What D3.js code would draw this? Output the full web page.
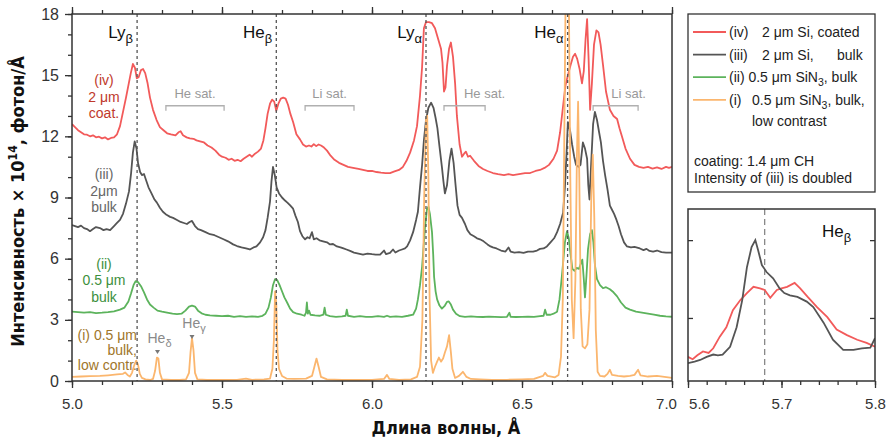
<!DOCTYPE html>
<html>
<head>
<meta charset="utf-8">
<script src="https://cdn.jsdelivr.net/npm/d3@7"></script>
<style>
  body { margin: 0; background: #fff; }
  svg text { font-family: "Liberation Sans", Arial, sans-serif; }
  .title { font-family: "Liberation Sans Narrow", "DejaVu Sans Condensed", "Roboto", sans-serif !important; font-weight: bold; }
</style>
</head>
<body>
<div id="chart"></div>
<script>
// Spectra: [wavelength (Å), intensity]
const specIv = [
  [5.000,12.60],[5.010,12.45],[5.020,12.30],[5.030,12.20],[5.040,12.10],[5.050,12.08],[5.060,12.00],[5.070,12.05],[5.080,11.95],[5.090,11.98],
  [5.100,11.90],[5.110,11.95],[5.120,11.85],[5.130,11.92],[5.140,11.95],[5.150,12.10],[5.160,12.50],[5.170,13.20],[5.180,13.90],[5.188,14.50],
  [5.196,15.10],[5.203,15.55],[5.210,15.35],[5.216,14.85],[5.222,14.90],[5.230,15.25],[5.237,15.30],[5.244,15.10],[5.252,14.60],[5.260,13.90],
  [5.270,13.30],[5.282,12.80],[5.293,12.45],[5.305,12.30],[5.317,12.15],[5.330,12.10],[5.345,12.05],[5.355,12.20],[5.362,12.25],[5.370,12.05],
  [5.382,11.95],[5.393,11.90],[5.405,11.88],[5.415,11.80],[5.427,11.75],[5.440,11.70],[5.452,11.55],[5.465,11.45],[5.478,11.30],[5.490,11.10],
  [5.500,11.00],[5.512,10.95],[5.522,10.85],[5.532,10.90],[5.542,10.80],[5.552,10.85],[5.562,10.78],[5.572,10.90],[5.582,11.00],[5.592,11.10],
  [5.600,11.00],[5.610,11.15],[5.620,11.25],[5.630,11.40],[5.638,11.80],[5.645,12.40],[5.652,13.10],[5.660,13.60],[5.667,13.80],[5.674,13.70],
  [5.681,13.25],[5.688,13.60],[5.696,13.85],[5.704,13.90],[5.712,13.85],[5.720,13.55],[5.728,13.10],[5.737,12.70],[5.748,12.10],[5.760,11.85],
  [5.770,11.60],[5.780,11.50],[5.790,11.55],[5.798,11.50],[5.806,11.62],[5.814,11.52],[5.822,11.60],[5.830,11.55],[5.840,11.45],[5.850,11.30],
  [5.862,11.05],[5.875,10.85],[5.890,10.70],[5.905,10.60],[5.920,10.50],[5.937,10.45],[5.955,10.40],[5.970,10.35],[5.985,10.30],[6.000,10.30],
  [6.015,10.25],[6.030,10.22],[6.045,10.20],[6.060,10.20],[6.075,10.28],[6.090,10.35],[6.103,10.50],[6.115,10.80],[6.127,11.20],[6.140,11.80],
  [6.150,12.50],[6.160,14.00],[6.167,15.40],[6.173,17.30],[6.180,17.60],[6.190,17.60],[6.200,17.55],[6.210,17.30],[6.220,16.80],[6.230,16.30],
  [6.235,15.60],[6.240,14.20],[6.245,14.40],[6.250,15.45],[6.257,16.30],[6.263,16.60],[6.270,15.90],[6.277,14.60],[6.283,13.00],[6.292,11.60],
  [6.300,11.00],[6.307,11.15],[6.313,11.25],[6.320,11.00],[6.327,11.05],[6.340,10.80],[6.355,10.55],[6.370,10.40],[6.385,10.30],[6.403,10.20],
  [6.420,10.15],[6.440,10.10],[6.455,10.15],[6.470,10.10],[6.490,10.15],[6.510,10.20],[6.527,10.20],[6.545,10.30],[6.560,10.35],[6.575,10.45],
  [6.590,10.60],[6.605,10.90],[6.617,11.30],[6.627,12.20],[6.637,13.50],[6.645,14.50],[6.653,15.00],[6.662,15.50],[6.670,15.90],[6.677,16.05],
  [6.684,15.80],[6.692,15.30],[6.700,14.60],[6.706,15.20],[6.712,16.80],[6.717,17.75],[6.722,15.80],[6.727,13.30],[6.733,14.60],[6.740,16.50],
  [6.748,17.20],[6.755,17.10],[6.762,16.50],[6.770,15.50],[6.780,14.20],[6.793,13.30],[6.805,13.00],[6.817,12.85],[6.825,12.40],[6.833,12.00],
  [6.845,11.40],[6.860,10.90],[6.875,10.60],[6.890,10.50],[6.905,10.45],[6.920,10.50],[6.935,10.42],[6.950,10.48],[6.965,10.40],[6.980,10.50],
  [6.990,10.45],[7.000,10.50]
];
const specIii = [
  [5.000,7.65],[5.010,7.60],[5.020,7.55],[5.030,7.62],[5.040,7.50],[5.050,7.45],[5.060,7.35],[5.070,7.45],[5.080,7.55],[5.093,7.50],
  [5.105,7.40],[5.115,7.45],[5.127,7.40],[5.140,7.60],[5.150,7.75],[5.160,7.90],[5.170,8.20],[5.180,8.70],[5.190,9.30],[5.197,10.20],
  [5.203,11.20],[5.209,11.75],[5.215,11.40],[5.220,10.70],[5.227,10.25],[5.233,10.10],[5.240,10.15],[5.247,9.85],[5.255,9.50],[5.265,9.20],
  [5.275,8.90],[5.283,8.75],[5.293,8.50],[5.303,8.30],[5.315,8.15],[5.327,8.05],[5.337,8.00],[5.350,7.90],[5.362,7.80],[5.373,7.75],
  [5.383,7.70],[5.392,7.80],[5.400,7.85],[5.410,7.60],[5.420,7.45],[5.430,7.40],[5.445,7.30],[5.460,7.20],[5.475,7.15],[5.490,7.05],
  [5.505,6.95],[5.520,6.85],[5.537,6.70],[5.550,6.62],[5.565,6.55],[5.580,6.50],[5.593,6.45],[5.605,6.55],[5.615,6.60],[5.627,6.80],
  [5.637,7.05],[5.645,7.40],[5.652,8.00],[5.660,8.80],[5.665,9.80],[5.670,10.50],[5.676,10.10],[5.682,9.50],[5.690,9.20],[5.700,9.00],
  [5.710,8.85],[5.718,8.75],[5.728,8.60],[5.737,8.45],[5.745,8.10],[5.753,7.80],[5.760,7.35],[5.768,7.10],[5.777,6.95],[5.785,7.05],
  [5.792,7.00],[5.800,7.30],[5.806,6.95],[5.815,7.00],[5.825,6.90],[5.837,6.85],[5.850,6.80],[5.860,6.70],[5.870,6.72],[5.883,6.60],
  [5.895,6.55],[5.905,6.50],[5.915,6.45],[5.927,6.38],[5.940,6.30],[5.955,6.25],[5.970,6.20],[5.985,6.25],[6.000,6.22],[6.012,6.20],
  [6.027,6.20],[6.040,6.40],[6.047,6.22],[6.060,6.28],[6.070,6.45],[6.078,6.30],[6.090,6.40],[6.100,6.45],[6.110,6.50],[6.117,6.60],
  [6.127,6.90],[6.137,7.30],[6.147,7.90],[6.153,8.30],[6.160,9.50],[6.167,10.60],[6.173,11.80],[6.180,12.80],[6.188,13.40],[6.197,13.65],
  [6.205,13.40],[6.212,12.90],[6.218,12.40],[6.225,11.50],[6.233,10.50],[6.238,9.80],[6.243,9.20],[6.250,9.60],[6.258,10.80],[6.265,11.40],
  [6.272,10.70],[6.278,9.70],[6.285,8.60],[6.292,8.15],[6.300,8.00],[6.310,7.70],[6.318,7.40],[6.328,7.20],[6.340,7.10],[6.350,7.00],
  [6.360,6.95],[6.372,6.85],[6.385,6.70],[6.395,6.60],[6.403,6.55],[6.415,6.50],[6.430,6.40],[6.445,6.35],[6.455,6.55],[6.462,6.35],
  [6.475,6.30],[6.490,6.32],[6.505,6.28],[6.520,6.35],[6.537,6.35],[6.550,6.40],[6.560,6.48],[6.572,6.50],[6.583,6.60],[6.595,6.80],
  [6.607,7.00],[6.617,7.30],[6.627,7.70],[6.637,8.25],[6.643,9.50],[6.648,11.00],[6.653,12.70],[6.660,12.30],[6.667,11.60],[6.674,11.00],
  [6.680,10.60],[6.688,10.50],[6.695,10.60],[6.703,11.70],[6.710,11.40],[6.717,10.90],[6.721,9.60],[6.725,8.90],[6.730,10.50],[6.737,12.60],
  [6.743,13.20],[6.750,12.80],[6.757,12.20],[6.763,11.70],[6.770,10.80],[6.777,10.10],[6.785,9.40],[6.793,8.60],[6.800,8.40],[6.807,8.20],
  [6.815,7.90],[6.822,7.60],[6.830,7.20],[6.840,6.80],[6.850,6.60],[6.863,6.55],[6.875,6.58],[6.893,6.50],[6.905,6.42],[6.915,6.48],
  [6.925,6.38],[6.937,6.35],[6.950,6.40],[6.965,6.32],[6.980,6.30],[7.000,6.30]
];
const specIi = [
  [5.000,3.40],[5.020,3.38],[5.040,3.35],[5.060,3.38],[5.080,3.33],[5.100,3.35],[5.120,3.38],[5.140,3.42],[5.160,3.50],[5.175,3.60],
  [5.188,3.90],[5.197,4.30],[5.205,4.70],[5.212,4.90],[5.220,4.85],[5.230,4.65],[5.240,4.35],[5.250,4.00],[5.260,3.75],[5.272,3.60],
  [5.285,3.45],[5.300,3.40],[5.317,3.35],[5.335,3.30],[5.350,3.28],[5.365,3.30],[5.378,3.45],[5.390,3.65],[5.400,3.70],[5.410,3.65],
  [5.420,3.45],[5.432,3.32],[5.445,3.25],[5.460,3.22],[5.480,3.20],[5.500,3.18],[5.520,3.20],[5.540,3.15],[5.560,3.18],[5.580,3.15],
  [5.600,3.17],[5.620,3.15],[5.635,3.20],[5.645,3.30],[5.655,3.60],[5.663,4.10],[5.670,4.70],[5.677,5.00],[5.684,4.95],[5.692,4.70],
  [5.700,4.40],[5.708,4.10],[5.717,3.85],[5.727,3.55],[5.737,3.38],[5.750,3.30],[5.765,3.25],[5.775,3.20],[5.780,3.35],[5.783,3.85],
  [5.786,3.30],[5.790,3.45],[5.795,3.25],[5.810,3.22],[5.825,3.20],[5.838,3.25],[5.842,3.60],[5.846,3.25],[5.860,3.18],[5.880,3.15],
  [5.900,3.17],[5.912,3.20],[5.916,3.50],[5.920,3.20],[5.940,3.15],[5.960,3.18],[5.980,3.15],[6.000,3.15],[6.020,3.18],[6.040,3.15],
  [6.050,3.20],[6.060,3.15],[6.080,3.17],[6.100,3.15],[6.120,3.20],[6.137,3.25],[6.147,3.55],[6.153,4.00],[6.160,4.70],[6.167,5.60],
  [6.172,6.60],[6.177,7.60],[6.183,8.40],[6.188,8.55],[6.193,8.20],[6.200,7.30],[6.204,6.20],[6.207,5.10],[6.212,4.40],[6.217,4.00],
  [6.225,3.70],[6.233,3.55],[6.243,3.70],[6.250,3.88],[6.256,3.90],[6.263,3.75],[6.270,3.50],[6.280,3.30],[6.293,3.18],[6.310,3.15],
  [6.330,3.17],[6.350,3.15],[6.370,3.14],[6.390,3.16],[6.410,3.15],[6.430,3.13],[6.450,3.15],[6.458,3.35],[6.462,3.15],[6.480,3.14],
  [6.500,3.15],[6.520,3.16],[6.540,3.15],[6.560,3.18],[6.572,3.20],[6.577,3.50],[6.582,3.25],[6.595,3.25],[6.605,3.30],[6.617,3.40],
  [6.625,4.00],[6.632,5.00],[6.637,5.80],[6.643,6.80],[6.650,7.35],[6.656,7.00],[6.662,6.20],[6.668,5.50],[6.675,5.40],[6.682,5.55],
  [6.690,5.50],[6.697,5.80],[6.701,5.95],[6.706,5.00],[6.710,4.10],[6.715,5.20],[6.720,6.45],[6.727,7.20],[6.733,7.40],[6.738,6.80],
  [6.743,5.70],[6.750,5.00],[6.760,4.70],[6.770,4.55],[6.780,4.60],[6.793,4.50],[6.805,4.35],[6.817,4.15],[6.830,3.85],[6.845,3.60],
  [6.860,3.50],[6.880,3.40],[6.900,3.35],[6.920,3.30],[6.940,3.25],[6.960,3.20],[6.980,3.17],[7.000,3.15]
];
const specI = [
  [5.000,0.20],[5.030,0.22],[5.060,0.24],[5.093,0.25],[5.120,0.28],[5.150,0.32],[5.170,0.35],[5.177,0.42],[5.185,0.30],[5.193,0.22],
  [5.200,0.40],[5.207,0.75],[5.214,1.00],[5.220,0.80],[5.226,0.35],[5.233,0.15],[5.245,0.08],[5.260,0.05],[5.270,0.10],[5.277,0.50],
  [5.283,1.15],[5.288,1.10],[5.293,0.40],[5.300,0.08],[5.330,0.05],[5.360,0.05],[5.380,0.08],[5.390,0.40],[5.395,1.40],[5.400,2.10],
  [5.405,1.50],[5.410,0.40],[5.418,0.08],[5.450,0.05],[5.500,0.05],[5.550,0.06],[5.580,0.12],[5.600,0.06],[5.640,0.08],[5.660,0.12],
  [5.668,0.60],[5.673,2.00],[5.677,4.40],[5.681,3.80],[5.685,1.50],[5.690,0.60],[5.700,0.25],[5.715,0.12],[5.740,0.10],[5.780,0.12],
  [5.800,0.25],[5.808,0.70],[5.815,1.10],[5.822,0.70],[5.830,0.20],[5.850,0.08],[5.900,0.05],[5.950,0.05],[6.000,0.06],[6.040,0.10],
  [6.050,0.30],[6.058,0.10],[6.090,0.05],[6.130,0.08],[6.150,0.20],[6.160,0.70],[6.168,3.00],[6.174,9.00],[6.180,12.80],[6.184,13.00],
  [6.188,10.00],[6.192,4.00],[6.197,1.00],[6.203,0.40],[6.210,0.70],[6.217,0.95],[6.223,1.15],[6.230,0.95],[6.237,1.10],[6.243,1.40],
  [6.250,1.70],[6.257,2.25],[6.263,1.40],[6.268,0.60],[6.277,0.15],[6.290,0.25],[6.303,0.45],[6.315,0.20],[6.330,0.10],[6.360,0.08],
  [6.400,0.06],[6.450,0.06],[6.500,0.08],[6.540,0.10],[6.570,0.25],[6.577,0.40],[6.585,0.25],[6.610,0.18],[6.622,0.30],[6.630,1.20],
  [6.636,4.00],[6.641,12.00],[6.646,20.00],[6.655,21.00],[6.661,10.00],[6.666,4.00],[6.672,2.10],[6.678,5.00],[6.683,11.00],[6.687,13.70],
  [6.691,10.00],[6.696,3.50],[6.702,1.70],[6.710,1.60],[6.718,1.80],[6.725,3.50],[6.731,9.00],[6.736,11.10],[6.741,8.00],[6.746,2.50],
  [6.752,0.45],[6.760,0.25],[6.775,0.22],[6.785,0.35],[6.793,0.55],[6.800,0.30],[6.820,0.25],[6.840,0.22],[6.860,0.25],[6.875,0.30],
  [6.887,0.55],[6.895,0.28],[6.920,0.22],[6.950,0.25],[6.975,0.20],[7.000,0.15]
];

// Inset (He-beta zoom), arbitrary units
const insetIii = [
  [5.600,0.42],[5.607,0.44],[5.613,0.46],[5.620,0.50],[5.627,0.53],[5.632,0.52],[5.637,0.53],[5.645,0.63],[5.652,0.88],[5.658,1.23],
  [5.663,1.65],[5.668,1.91],[5.672,2.00],[5.675,1.87],[5.679,1.68],[5.684,1.59],[5.691,1.51],[5.698,1.38],[5.703,1.32],[5.709,1.29],
  [5.717,1.27],[5.727,1.21],[5.734,1.14],[5.745,0.94],[5.755,0.72],[5.766,0.59],[5.777,0.59],[5.786,0.61],[5.795,0.62],[5.800,0.74]
];
const insetIv = [
  [5.600,0.50],[5.605,0.47],[5.610,0.52],[5.616,0.57],[5.622,0.55],[5.627,0.61],[5.634,0.76],[5.641,0.88],[5.648,1.10],[5.656,1.23],
  [5.663,1.32],[5.670,1.40],[5.677,1.38],[5.682,1.36],[5.688,1.26],[5.695,1.36],[5.700,1.38],[5.706,1.40],[5.714,1.45],[5.720,1.38],
  [5.728,1.27],[5.738,1.14],[5.749,1.01],[5.759,0.85],[5.770,0.78],[5.781,0.72],[5.791,0.68],[5.800,0.63]
];

const xTicks = [5.0, 5.5, 6.0, 6.5, 7.0];
const yTicks = [0, 3, 6, 9, 12, 15, 18];
const insetTicks = [5.6, 5.7, 5.8];
const refLines = [5.217, 5.681, 6.180, 6.652];
const refNames = ["Ly", "He", "Ly", "He"];
const refSubs = ["β", "β", "α", "α"];
const satNames = ["He sat.", "Li sat.", "He sat.", "Li sat."];
const satFrom = [5.313, 5.777, 6.240, 6.737];
const satTo = [5.507, 5.940, 6.377, 6.887];
const colors = {iv: "#f25a5a", iii: "#555555", ii: "#5cb35c", i: "#fbb66e"};

const W = 892, H = 440;
const plot = {left: 72, right: 672, top: 14, bottom: 381};
const inset = {left: 688, right: 875, top: 209, bottom: 381};

const svg = d3.select("#chart").append("svg")
  .attr("width", W).attr("height", H);

const x = d3.scaleLinear().domain([5, 7]).range([plot.left, plot.right]);
const y = d3.scaleLinear().domain([0, 18]).range([plot.bottom, plot.top]);
const xi = d3.scaleLinear().domain([5.6, 5.8]).range([inset.left, inset.right]);
const yi = d3.scaleLinear().domain([0.19, 2.4]).range([inset.bottom, inset.top]);

svg.append("clipPath").attr("id", "clipMain").append("rect")
  .attr("x", plot.left).attr("y", plot.top)
  .attr("width", plot.right - plot.left).attr("height", plot.bottom - plot.top);
svg.append("clipPath").attr("id", "clipInset").append("rect")
  .attr("x", inset.left).attr("y", inset.top)
  .attr("width", inset.right - inset.left).attr("height", inset.bottom - inset.top);

// ---- main panel ----
const line = d3.line().x(d => x(d[0])).y(d => y(d[1]));
const curves = svg.append("g").attr("clip-path", "url(#clipMain)");
[[specIv, colors.iv], [specIii, colors.iii], [specIi, colors.ii], [specI, colors.i]].forEach(([data, c]) => {
  curves.append("path").datum(data)
    .attr("d", line).attr("fill", "none")
    .attr("stroke", c).attr("stroke-width", 1.8).attr("stroke-linejoin", "round");
});

curves.selectAll(".ref").data(refLines).enter().append("line")
  .attr("x1", d => x(d)).attr("x2", d => x(d))
  .attr("y1", plot.top).attr("y2", plot.bottom)
  .attr("stroke", "#555").attr("stroke-width", 1.3).attr("stroke-dasharray", "3,3");

// axes
function styleAxis(g) {
  g.select(".domain").remove();
  g.selectAll("line").attr("stroke", "#333").attr("stroke-width", 1.3);
  g.selectAll("text").attr("fill", "#333").style("font-size", "15px");
}
const minorX = d3.range(50, 71).map(v => v / 10);
const minorY = d3.range(0, 19);

svg.append("g").attr("transform", `translate(0,${plot.bottom})`)
  .call(d3.axisBottom(x).tickValues(minorX).tickSize(4).tickFormat(""))
  .call(styleAxis);
svg.append("g").attr("transform", `translate(0,${plot.bottom})`)
  .call(d3.axisBottom(x).tickValues(xTicks).tickSize(7).tickPadding(10).tickFormat(d3.format(".1f")))
  .call(styleAxis)
  .call(g => g.selectAll("text").filter(d => d === 7).attr("dx", -6));
svg.append("g").attr("transform", `translate(0,${plot.top})`)
  .call(d3.axisTop(x).tickValues(minorX).tickSize(4).tickFormat(""))
  .call(styleAxis);
svg.append("g").attr("transform", `translate(0,${plot.top})`)
  .call(d3.axisTop(x).tickValues(xTicks).tickSize(7).tickFormat(""))
  .call(styleAxis);
svg.append("g").attr("transform", `translate(${plot.left},0)`)
  .call(d3.axisLeft(y).tickValues(minorY).tickSize(4).tickFormat(""))
  .call(styleAxis);
svg.append("g").attr("transform", `translate(${plot.left},0)`)
  .call(d3.axisLeft(y).tickValues(yTicks).tickSize(7).tickPadding(6))
  .call(styleAxis)
  .call(g => g.selectAll("text").style("font-size", "16px"));

svg.append("rect")
  .attr("x", plot.left).attr("y", plot.top)
  .attr("width", plot.right - plot.left).attr("height", plot.bottom - plot.top)
  .attr("fill", "none").attr("stroke", "#333").attr("stroke-width", 1.5);

// line names at the top
refLines.forEach((v, i) => {
  const t = svg.append("text")
    .attr("x", x(v) - 4).attr("y", y(16.8))
    .attr("text-anchor", "end").attr("fill", "#111").style("font-size", "17px");
  t.append("tspan").text(refNames[i]);
  t.append("tspan").attr("dy", 5).style("font-size", "13px").text(refSubs[i]);
});

// satellite brackets
satNames.forEach((s, i) => {
  const x0 = x(satFrom[i]), x1 = x(satTo[i]), yy = y(13.5);
  svg.append("path")
    .attr("d", `M${x0},${yy + 5}V${yy}H${x1}V${yy + 5}`)
    .attr("fill", "none").attr("stroke", "#b0b0b0").attr("stroke-width", 1.3);
  const shift = [0, 0, 20, 13][i];
  svg.append("text")
    .attr("x", (x0 + x1) / 2 + shift).attr("y", yy - 8)
    .attr("text-anchor", "middle").attr("fill", "#999").style("font-size", "13px")
    .text(s);
});

// He-delta / He-gamma markers
[[5.285, "δ", 1.86], [5.400, "γ", 2.60]].forEach(([v, sub, base]) => {
  const t = svg.append("text")
    .attr("x", x(v) + 2).attr("y", y(base))
    .attr("text-anchor", "middle").attr("fill", "#8a8a8a").style("font-size", "14px");
  t.append("tspan").text("He");
  t.append("tspan").attr("dy", 4).style("font-size", "11px").text(sub);
  const tipY = y(base) + 11;
  svg.append("path")
    .attr("d", `M${x(v)},${tipY}l-2.5,-4h5z`)
    .attr("fill", "#777");
});

// series labels on the left
const seriesLabels = [
  [["(iv)", "2 μm", "coat."], "#c0392b", 14.5],
  [["(iii)", "2μm", "bulk"], "#666", 9.9],
  [["(ii)", "0.5 μm", "bulk"], "#3d8f3d", 5.5],
];
seriesLabels.forEach(([lines, c, top]) => {
  lines.forEach((s, j) => {
    svg.append("text")
      .attr("x", 104).attr("y", y(top) + j * 16.5)
      .attr("text-anchor", "middle").attr("fill", c).style("font-size", "14px")
      .text(s);
  });
});
["(i) 0.5 μm", "bulk,", "low contr."].forEach((s, j) => {
  svg.append("text")
    .attr("x", 137).attr("y", y(2.0) + j * 15)
    .attr("text-anchor", "end").attr("fill", "#a0762a").style("font-size", "14px")
    .text(s);
});

// axis titles
const yl = svg.append("text").attr("class", "title")
  .attr("transform", `translate(24,${(plot.top + plot.bottom) / 2 + 4}) rotate(-90)`)
  .attr("text-anchor", "middle").attr("fill", "#111").style("font-size", "18px");
yl.append("tspan").text("Интенсивность × 10");
yl.append("tspan").attr("dy", -7).style("font-size", "12px").text("14");
yl.append("tspan").attr("dy", 7).text(", фотон/Å");

svg.append("text").attr("class", "title")
  .attr("x", W / 2).attr("y", 434)
  .attr("text-anchor", "middle").attr("fill", "#111").style("font-size", "18px")
  .text("Длина волны, Å");

// ---- legend ----
svg.append("rect")
  .attr("x", 688).attr("y", 14).attr("width", 187).attr("height", 178)
  .attr("fill", "#fff").attr("stroke", "#333").attr("stroke-width", 1.3);
const legColors = [colors.iv, colors.iii, colors.ii, colors.i];
legColors.forEach((c, i) => {
  const yy = 32 + i * 22.6;
  svg.append("line").attr("x1", 693).attr("x2", 726).attr("y1", yy).attr("y2", yy)
    .attr("stroke", c).attr("stroke-width", 1.8);
});
// parts: plain string, {at, t} for a tab stop, {low} for a subscript
function legText(xx, yy, parts) {
  const t = svg.append("text").attr("x", xx).attr("y", yy)
    .attr("fill", "#222").style("font-size", "14px");
  let back = 0;
  parts.forEach(p => {
    const obj = typeof p === "object";
    if (obj && p.low) {
      t.append("tspan").attr("dy", 4).style("font-size", "10.5px").text(p.low);
      back = -4;
      return;
    }
    const s = t.append("tspan").text(obj ? p.t : p);
    if (obj && p.at) s.attr("x", p.at);
    if (back) { s.attr("dy", back); back = 0; }
  });
  return t;
}
legText(729, 37, ["(iv)", {at: 762, t: "2 μm Si, coated"}]);
legText(729, 59.5, ["(iii)", {at: 762, t: "2 μm Si,"}, {at: 837, t: "bulk"}]);
legText(729, 82, ["(ii) 0.5 μm SiN", {low: "3"}, ", bulk"]);
legText(729, 104.5, ["(i)", {at: 752, t: "0.5 μm SiN"}, {low: "3"}, ", bulk,"]);
legText(752, 126, ["low contrast"]);
legText(694, 166, ["coating: 1.4 μm CH"]);
legText(694, 183, ["Intensity of (iii) is doubled"]);

// ---- inset ----
const iline = d3.line().x(d => xi(d[0])).y(d => yi(d[1]));
const ic = svg.append("g").attr("clip-path", "url(#clipInset)");
ic.append("line")
  .attr("x1", xi(5.682)).attr("x2", xi(5.682)).attr("y1", inset.top).attr("y2", inset.bottom)
  .attr("stroke", "#888").attr("stroke-width", 1.3).attr("stroke-dasharray", "6,4");
ic.append("path").datum(insetIv).attr("d", iline).attr("fill", "none")
  .attr("stroke", colors.iv).attr("stroke-width", 1.8);
ic.append("path").datum(insetIii).attr("d", iline).attr("fill", "none")
  .attr("stroke", colors.iii).attr("stroke-width", 1.8);

const minorI = d3.range(280, 291).map(v => v / 50);
svg.append("g").attr("transform", `translate(0,${inset.bottom})`)
  .call(d3.axisBottom(xi).tickValues(minorI).tickSize(4).tickFormat(""))
  .call(styleAxis);
svg.append("g").attr("transform", `translate(0,${inset.bottom})`)
  .call(d3.axisBottom(xi).tickValues(insetTicks).tickSize(7).tickPadding(10).tickFormat(d3.format(".1f")))
  .call(styleAxis)
  .call(g => g.selectAll("text").filter(d => d === 5.6).attr("dx", 11));
svg.append("g").attr("transform", `translate(${inset.left},0)`)
  .call(d3.axisRight(yi).tickValues([1, 2]).tickSize(5).tickFormat(""))
  .call(styleAxis);
svg.append("g").attr("transform", `translate(${inset.right},0)`)
  .call(d3.axisLeft(yi).tickValues([1, 2]).tickSize(5).tickFormat(""))
  .call(styleAxis);
svg.append("rect")
  .attr("x", inset.left).attr("y", inset.top)
  .attr("width", inset.right - inset.left).attr("height", inset.bottom - inset.top)
  .attr("fill", "none").attr("stroke", "#333").attr("stroke-width", 1.5);

const ht = svg.append("text").attr("x", 822).attr("y", 237)
  .attr("fill", "#111").style("font-size", "17px");
ht.append("tspan").text("He");
ht.append("tspan").attr("dy", 5).style("font-size", "13px").text("β");
</script>
</body>
</html>
